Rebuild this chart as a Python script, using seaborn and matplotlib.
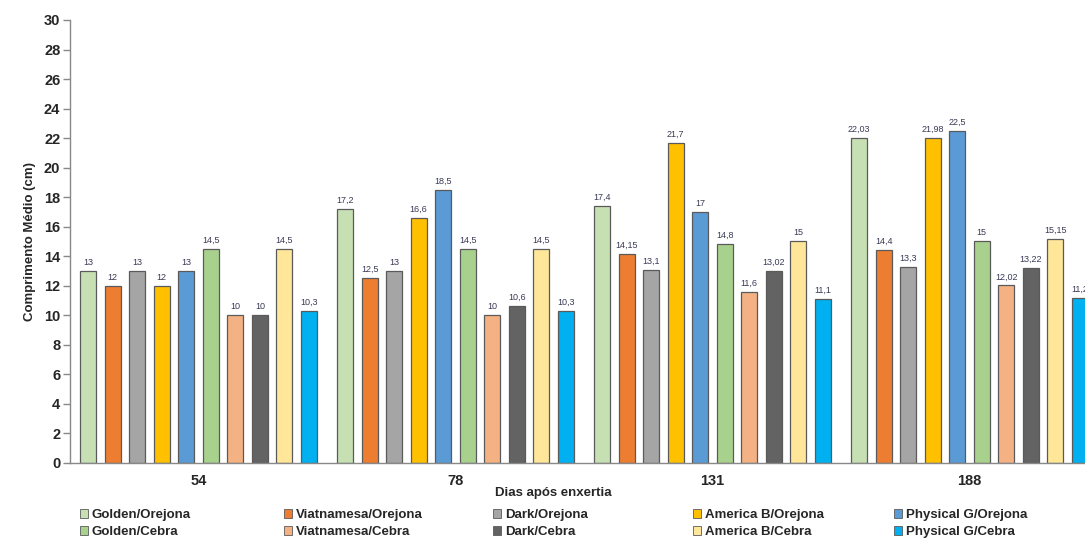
import numpy as np
import pandas as pd
import matplotlib
matplotlib.use("Agg")
import matplotlib.pyplot as plt
import seaborn as sns

# ==========================================================
# DATA
# ==========================================================

days = ["54", "78", "131", "188"]

treatments = [
    "Golden/Orejona", "Viatnamesa/Orejona", "Dark/Orejona",
    "America B/Orejona", "Physical G/Orejona",
    "Golden/Cebra", "Viatnamesa/Cebra", "Dark/Cebra",
    "America B/Cebra", "Physical G/Cebra",
]

values_54 = [13, 12, 13, 12, 13, 14.5, 10, 10, 14.5, 10.3]
values_78 = [17.2, 12.5, 13, 16.6, 18.5, 14.5, 10, 10.6, 14.5, 10.3]
values_131 = [17.4, 14.15, 13.1, 21.7, 17, 14.8, 11.6, 13.02, 15, 11.1]
values_188 = [22.03, 14.4, 13.3, 21.98, 22.5, 15, 12.02, 13.22, 15.15, 11.2]

colors = [
    "#C6E0B4", "#ED7D31", "#A5A5A5", "#FFC000", "#5B9BD5",
    "#A9D18E", "#F4B183", "#636363", "#FFE699", "#00B0F0",
]

rows = []
for day, vals in zip(days, [values_54, values_78, values_131, values_188]):
    for trt, v in zip(treatments, vals):
        rows.append({"day": day, "treatment": trt, "value": v})
df = pd.DataFrame(rows)

# ==========================================================
# STYLE
# ==========================================================

sns.set_style("white")
plt.rcParams["font.family"] = ["Liberation Sans", "DejaVu Sans"]

fig = plt.figure(figsize=(10.85, 5.4), dpi=100)
ax = fig.add_axes([0.0645, 0.1426, 0.9475, 0.8204])

sns.barplot(
    data=df,
    x="day",
    y="value",
    hue="treatment",
    hue_order=treatments,
    order=days,
    palette=colors,
    saturation=1,
    width=0.955,
    gap=0.35,
    errorbar=None,
    edgecolor="#5a5a5a",
    linewidth=0.9,
    legend=False,
    ax=ax,
)

# value labels
for cont, trt in zip(ax.containers, treatments):
    vals = df[df["treatment"] == trt]["value"].tolist()
    labels = [f"{v:g}".replace(".", ",") for v in vals]
    ax.bar_label(cont, labels=labels, padding=3, fontsize=6.5, color="#3a3a55")

# ==========================================================
# AXES
# ==========================================================

ax.set_xlim(-0.5, 3.5)
ax.set_ylim(0, 30)
ax.set_yticks(np.arange(0, 31, 2))
ax.set_yticklabels([str(t) for t in range(0, 31, 2)], fontsize=10.5, fontweight="bold")

ax.set_xticks(range(len(days)))
ax.set_xticklabels(days, fontsize=10.5, fontweight="bold")
ax.set_xticks(np.arange(-0.5, 4.0, 1.0), minor=True)
ax.tick_params(axis="x", which="major", length=0, pad=8)
ax.tick_params(axis="x", which="minor", length=5, color="#888888", width=1, direction="out")
ax.tick_params(axis="y", length=5, color="#888888", width=1, direction="out", left=True, pad=2)

ax.set_xlabel("")
ax.set_ylabel("Comprimento Médio (cm)", fontsize=9.5, fontweight="bold", labelpad=6)

for side in ["top", "right"]:
    ax.spines[side].set_visible(False)
for side in ["left", "bottom"]:
    ax.spines[side].set_color("#888888")
    ax.spines[side].set_linewidth(1)

fig.text(0.51, 1 - 493 / 540, "Dias após enxertia", ha="center", va="center",
         fontsize=9.5, fontweight="bold")

# ==========================================================
# LEGEND (five columns, Orejona on top, Cebra below)
# ==========================================================

col_x = [80, 284, 493, 693, 894]
for i, x in enumerate(col_x):
    handles = [
        plt.Rectangle((0, 0), 1, 1, facecolor=colors[i], edgecolor="#5a5a5a", linewidth=0.6),
        plt.Rectangle((0, 0), 1, 1, facecolor=colors[i + 5], edgecolor="#5a5a5a", linewidth=0.6),
    ]
    fig.legend(
        handles,
        [treatments[i], treatments[i + 5]],
        loc="upper left",
        bbox_to_anchor=(x / 1085, 1 - 509 / 540),
        frameon=False,
        handlelength=0.6,
        handleheight=0.6,
        handletextpad=0.3,
        labelspacing=0.4,
        borderpad=0,
        borderaxespad=0,
        prop={"weight": "bold", "size": 9.5},
    )

plt.savefig("out.png", dpi=100)
plt.close()
